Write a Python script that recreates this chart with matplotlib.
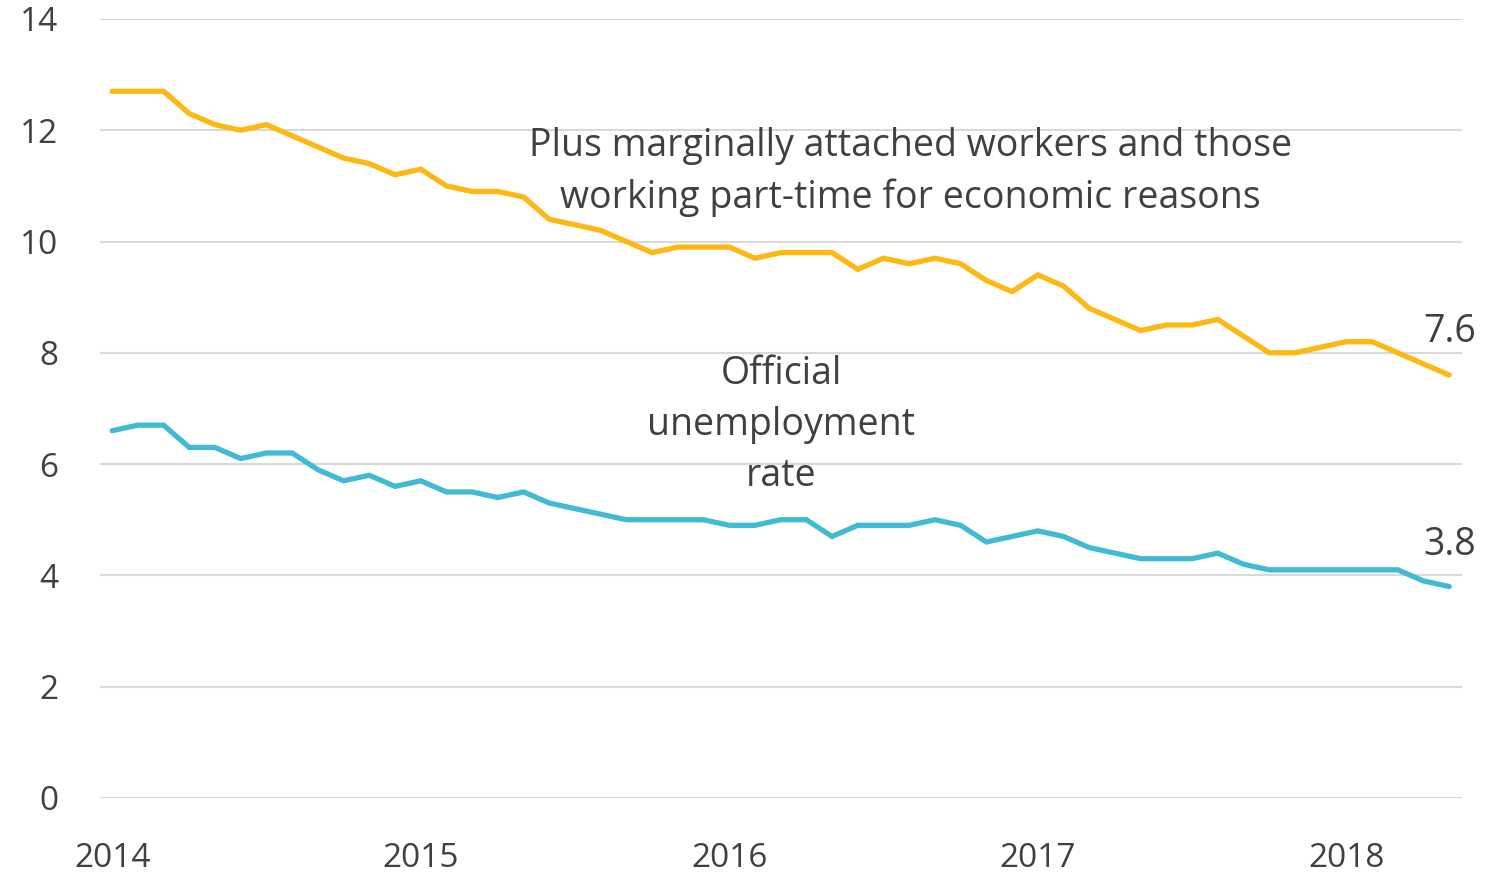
import matplotlib
matplotlib.use("Agg")
import matplotlib.pyplot as plt

# monthly, Jan 2014 .. May 2018
years = ["2014", "2015", "2016", "2017", "2018"]
u6 = [12.7, 12.7, 12.7, 12.3, 12.1, 12.0, 12.1, 11.9, 11.7, 11.5, 11.4, 11.2,
      11.3, 11.0, 10.9, 10.9, 10.8, 10.4, 10.3, 10.2, 10.0, 9.8, 9.9, 9.9,
      9.9, 9.7, 9.8, 9.8, 9.8, 9.5, 9.7, 9.6, 9.7, 9.6, 9.3, 9.1,
      9.4, 9.2, 8.8, 8.6, 8.4, 8.5, 8.5, 8.6, 8.3, 8.0, 8.0, 8.1,
      8.2, 8.2, 8.0, 7.8, 7.6]
u3 = [6.6, 6.7, 6.7, 6.3, 6.3, 6.1, 6.2, 6.2, 5.9, 5.7, 5.8, 5.6,
      5.7, 5.5, 5.5, 5.4, 5.5, 5.3, 5.2, 5.1, 5.0, 5.0, 5.0, 5.0,
      4.9, 4.9, 5.0, 5.0, 4.7, 4.9, 4.9, 4.9, 5.0, 4.9, 4.6, 4.7,
      4.8, 4.7, 4.5, 4.4, 4.3, 4.3, 4.3, 4.4, 4.2, 4.1, 4.1, 4.1,
      4.1, 4.1, 4.1, 3.9, 3.8]
months = list(range(len(u6)))

YELLOW = "#FDB813"
BLUE = "#42BAD4"
TXT = "#404040"

plt.rcParams['font.family'] = ['Open Sans', 'DejaVu Sans']

fig = plt.figure(figsize=(14.89, 8.77), dpi=100)
ax = fig.add_axes([0.0672, 0.0901, 0.9147, 0.8883])

ax.plot(months, u6, color=YELLOW, lw=3.8, solid_capstyle='round', solid_joinstyle='miter')
ax.plot(months, u3, color=BLUE, lw=3.8, solid_capstyle='round', solid_joinstyle='miter')

ax.set_ylim(0, 14)
ax.set_xlim(-0.47, 52.5)
ax.set_yticks(range(0, 15, 2))
ax.set_xticks([12 * i for i in range(len(years))])
ax.set_xticklabels(years)
ax.grid(axis='y', color='#D9D9D9', lw=1.5)
ax.set_axisbelow(True)
for s in ax.spines.values():
    s.set_visible(False)
ax.tick_params(axis='both', length=0, labelsize=24, colors=TXT)
ax.tick_params(axis='y', pad=30)
ax.tick_params(axis='x', pad=32)

ax.text(31.05, 11.25, "Plus marginally attached workers and those\nworking part-time for economic reasons",
        ha='center', va='center', fontsize=27, color=TXT, linespacing=1.45)
ax.text(26.03, 6.7, "Official\nunemployment\nrate",
        ha='center', va='center', fontsize=27, color=TXT, linespacing=1.45)
ax.text(months[-1], u6[-1] + 0.78, f"{u6[-1]:.1f}", ha='center', va='center',
        fontsize=27, color=TXT)
ax.text(months[-1], u3[-1] + 0.75, f"{u3[-1]:.1f}", ha='center', va='center',
        fontsize=27, color=TXT)

fig.savefig("out.png", dpi=100)
